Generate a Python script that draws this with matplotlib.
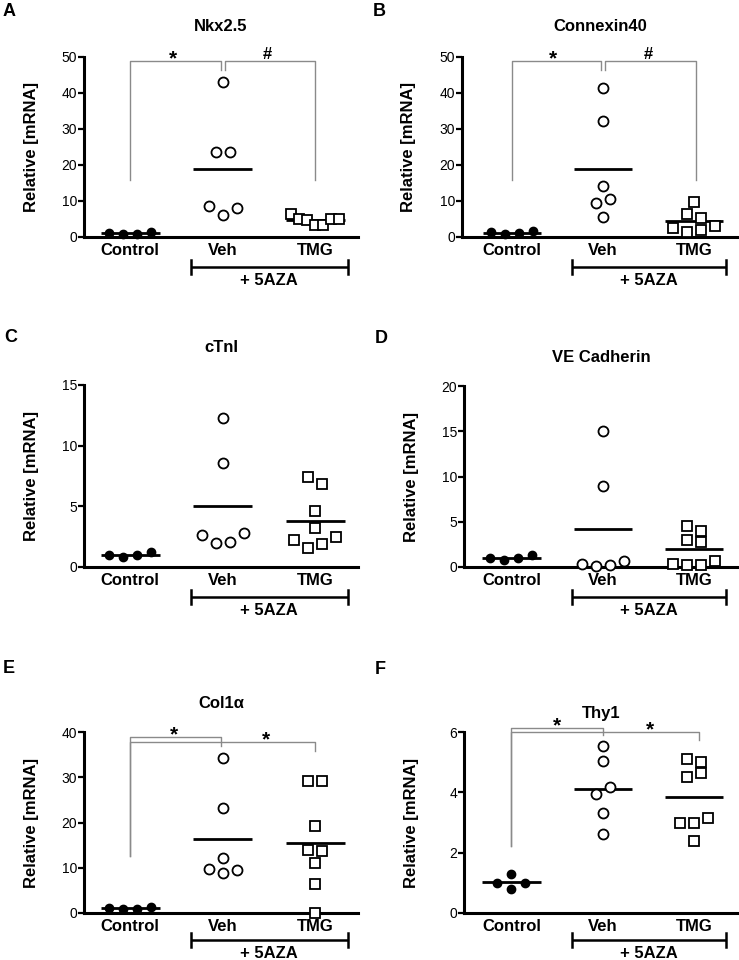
import numpy as np
import matplotlib
matplotlib.use("Agg")
import matplotlib.pyplot as plt

plt.rcParams["font.family"] = ["Liberation Sans", "DejaVu Sans"]

# ── Data (relative mRNA) ─────────────────────────────────────────────────────
GROUPS = ["Control", "Veh", "TMG"]

nkx_ctrl = [1.1, 0.8, 0.8, 1.4]
nkx_veh = [43.0, 23.7, 23.7, 8.5, 6.2, 8.0]
nkx_tmg = [6.4, 5.0, 4.6, 3.2, 3.2, 5.0, 5.0]

cx40_ctrl = [1.3, 0.8, 1.1, 1.7]
cx40_veh = [41.4, 32.2, 14.2, 9.4, 10.6, 5.6]
cx40_tmg = [9.7, 6.4, 5.3, 2.5, 1.4, 2.0, 2.95]

ctni_ctrl = [1.0, 0.8, 1.0, 1.2]
ctni_veh = [12.3, 8.55, 2.6, 2.0, 2.1, 2.8]
ctni_tmg = [7.4, 6.8, 4.6, 3.2, 2.25, 1.6, 1.86, 2.5]

vecad_ctrl = [1.0, 0.77, 1.0, 1.32]
vecad_veh = [15.0, 8.9, 0.37, 0.15, 0.2, 0.62]
vecad_tmg = [4.5, 4.0, 3.0, 2.75, 0.37, 0.2, 0.25, 0.66]

col1a_ctrl = [1.1, 0.8, 0.9, 1.3]
col1a_veh = [34.15, 23.2, 12.2, 9.65, 8.8, 9.5]
col1a_tmg = [29.25, 29.25, 19.3, 13.9, 13.7, 11.1, 6.5, 0.0]

thy1_ctrl = [1.0, 0.79, 1.0, 1.3]
thy1_veh = [5.53, 5.03, 3.95, 4.19, 3.33, 2.62]
thy1_tmg = [5.1, 4.99, 4.5, 4.65, 3.0, 3.0, 3.15, 2.4]

# ── Figure / layout (pixels) ─────────────────────────────────────────────────
W, H = 739, 960
fig = plt.figure(figsize=(W / 100, H / 100), dpi=100, facecolor="white")

def px_rect(left, top, w, h):
    return [left / W, 1 - (top + h) / H, w / W, h / H]

GRAY = "#8a8a8a"
AZA_TOP = (30, 48)      # bracket / text baseline, px below the x axis
AZA_BOTTOM = (27, 45)   # last row sits right at the page edge

# letter, title, data, ylim, yticks, axes rect, xlim, title pad, letter pos,
# 5AZA offsets, brackets (x0, x1, y, drop0, drop1, label, label_x)
panels = [
    ("A", "Nkx2.5", (nkx_ctrl, nkx_veh, nkx_tmg), 50, np.arange(0, 51, 10),
     px_rect(84, 57, 274, 180), (-0.5, 2.46), 19, (3, 16), AZA_TOP,
     [(0, 0.975, 49.0, 15.9, 46.3, "*", 0.46),
      (1.025, 2.0, 49.0, 46.3, 15.9, "#", 1.48)]),
    ("B", "Connexin40", (cx40_ctrl, cx40_veh, cx40_tmg), 50, np.arange(0, 51, 10),
     px_rect(462, 57, 276, 180), (-0.55, 2.48), 19, (373, 16), AZA_TOP,
     [(0, 0.975, 49.0, 15.9, 46.3, "*", 0.45),
      (1.025, 2.02, 49.0, 46.3, 15.9, "#", 1.5)]),
    ("C", "cTnI", (ctni_ctrl, ctni_veh, ctni_tmg), 15, np.arange(0, 16, 5),
     px_rect(84, 385, 274, 182), (-0.5, 2.46), 24, (4, 342), AZA_TOP, []),
    ("D", "VE Cadherin", (vecad_ctrl, vecad_veh, vecad_tmg), 20, np.arange(0, 21, 5),
     px_rect(464, 386, 274, 181), (-0.52, 2.48), 17, (375, 343), AZA_TOP, []),
    ("E", "Col1\u03b1", (col1a_ctrl, col1a_veh, col1a_tmg), 40, np.arange(0, 41, 10),
     px_rect(84, 732, 274, 181), (-0.5, 2.46), 17, (3, 673), AZA_BOTTOM,
     [(0, 0.975, 39.0, 12.7, 37.0, "*", 0.47),
      (0, 2.0, 37.8, 12.7, 35.8, "*", 1.47)]),
    ("F", "Thy1", (thy1_ctrl, thy1_veh, thy1_tmg), 6, np.arange(0, 7, 2),
     px_rect(464, 732, 274, 181), (-0.52, 2.48), 10, (375, 674), AZA_BOTTOM,
     [(0, 1.0, 6.14, 2.22, 5.91, "*", 0.5),
      (0, 2.05, 6.0, 2.22, 5.73, "*", 1.52)]),
]


def row_offsets(vals, ax, thr_px=8, step_px=14, max_px=48):
    """GraphPad-like column scatter: points at similar heights share a row."""
    vals = np.asarray(vals, float)
    ppu_y = ax.bbox.height / np.diff(ax.get_ylim())[0]
    ppu_x = ax.bbox.width / np.diff(ax.get_xlim())[0]
    order = np.argsort(vals, kind="stable")
    rows, cur = [], [order[0]]
    for a, b in zip(order[:-1], order[1:]):
        if (vals[b] - vals[a]) * ppu_y < thr_px:
            cur.append(b)
        else:
            rows.append(cur)
            cur = [b]
    rows.append(cur)
    off = np.zeros(len(vals))
    for r in rows:
        r = sorted(r)
        n = len(r)
        step = step_px if n < 2 else min(step_px, max_px / (n - 1))
        for k, i in enumerate(r):
            off[i] = (k - (n - 1) / 2) * step / ppu_x
    return off


MARKERS = [
    dict(marker="o", ms=6, mfc="black", mec="black", mew=1.0),
    dict(marker="o", ms=7.2, mfc="white", mec="black", mew=1.3),
    dict(marker="s", ms=6.8, mfc="white", mec="black", mew=1.3),
]

for (letter, title, groups, ymax, yticks, rect, xlim, tpad, lpos, aza,
     brackets) in panels:
    ax = fig.add_axes(rect)
    ax.set_xlim(*xlim)
    ax.set_ylim(0, ymax)

    for gi, (vals, mk) in enumerate(zip(groups, MARKERS)):
        off = row_offsets(vals, ax)
        ax.hlines(np.mean(vals), gi - 0.32, gi + 0.32, color="black", lw=2.0,
                  zorder=2)
        ax.plot(gi + off, vals, ls="none", zorder=3, clip_on=False, **mk)

    # axes styling
    for s in ("top", "right"):
        ax.spines[s].set_visible(False)
    ax.spines["left"].set_linewidth(2.2)
    ax.spines["bottom"].set_linewidth(2.2)
    ax.set_yticks(yticks)
    ax.tick_params(axis="y", length=4, width=1.6, pad=1, labelsize=10)
    ax.set_xticks(range(3))
    ax.set_xticklabels(GROUPS, fontsize=12, fontweight="bold")
    ax.tick_params(axis="x", length=0, pad=4)
    ax.set_ylabel("Relative [mRNA]", fontsize=12, fontweight="bold")
    ax.yaxis.set_label_coords(-0.165, 0.5)
    ax.set_title(title, fontsize=12, fontweight="bold", pad=tpad)

    # + 5AZA bracket under Veh / TMG
    h = ax.bbox.height
    xt = ax.get_xaxis_transform()
    yb, yt = aza
    ax.plot([0.66, 2.35], [-yb / h, -yb / h], color="black", lw=1.8,
            transform=xt, clip_on=False, solid_capstyle="butt")
    for xe in (0.66, 2.35):
        ax.plot([xe, xe], [-(yb - 7) / h, -(yb + 7) / h], color="black", lw=1.8,
                transform=xt, clip_on=False)
    ax.text(1.5, -yt / h, "+ 5AZA", transform=xt, ha="center", va="baseline",
            fontsize=12, fontweight="bold")

    # significance brackets
    for (x0, x1, y, d0, d1, lab, lx) in brackets:
        ax.plot([x0, x0, x1, x1], [d0, y, y, d1], color=GRAY, lw=1.0,
                clip_on=False, zorder=1)
        if lab == "*":
            ax.annotate(lab, (lx, y), xytext=(0, -2.5), textcoords="offset points",
                        ha="center", va="baseline", fontsize=15,
                        fontweight="bold", annotation_clip=False)
        else:
            ax.annotate(lab, (lx, y), xytext=(0, 1), textcoords="offset points",
                        ha="center", va="baseline", fontsize=12,
                        fontweight="bold", annotation_clip=False)

    fig.text(lpos[0] / W, 1 - lpos[1] / H, letter, fontsize=13,
             fontweight="bold", ha="left", va="baseline")

fig.savefig("out.png", dpi=100, facecolor="white")
